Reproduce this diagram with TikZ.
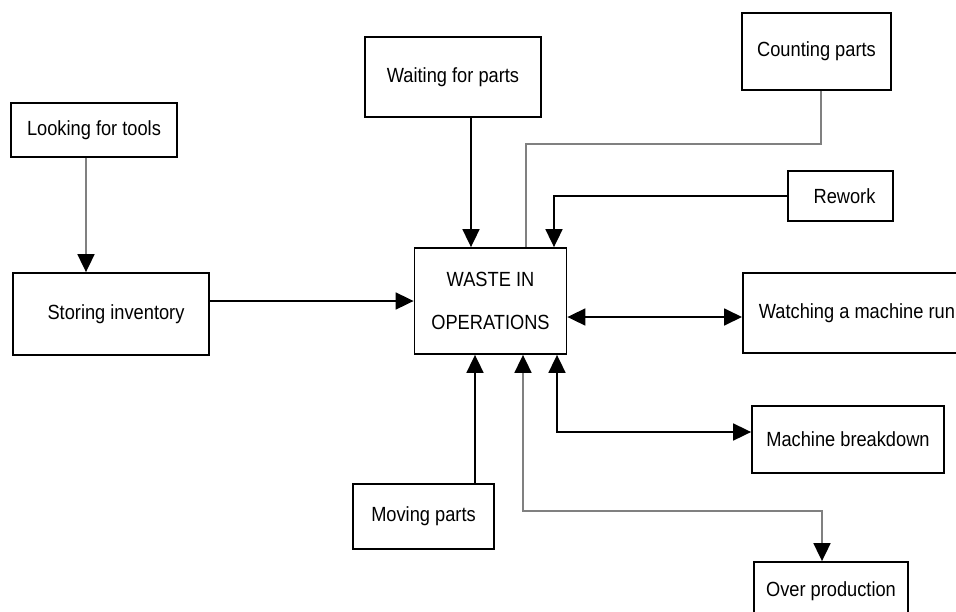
\documentclass[tikz,border=0pt]{standalone}
\usepackage{fontspec}
\setmainfont{Liberation Sans}[FakeStretch=0.89]
\usetikzlibrary{arrows.meta,calc}
\begin{document}
\begin{tikzpicture}[x=1pt,y=-1pt,
  box/.style={draw=black,line width=1.8pt,rectangle,inner sep=0pt,align=center,
    font=\fontsize{20.5}{43}\selectfont},
  conn/.style={line width=1.8pt,draw=black},
  gconn/.style={line width=1.8pt,draw=black!50},
  tip/.style={-{Triangle[length=18pt,width=17pt,color=black]}},
  dtip/.style={{Triangle[length=18pt,width=17pt,color=black]}-{Triangle[length=18pt,width=17pt,color=black]}}]
\useasboundingbox (0,0) rectangle (956,611);
\clip (0,0) rectangle (956,611);
\node[box,minimum width=166,minimum height=54] (look) at (94,130) {Looking for tools};
\node[box,minimum width=196,minimum height=82] (store) at (111,314) {\hspace*{10pt}Storing inventory};
\node[box,minimum width=176,minimum height=80] (wait) at (453,77) {Waiting for parts};
\node[box,minimum width=152,minimum height=106] (waste) at (490.5,301) {WASTE IN\\OPERATIONS};
\node[box,minimum width=149,minimum height=77] (count) at (816.5,51.5) {Counting parts};
\node[box,minimum width=105,minimum height=50] (rework) at (840.5,196) {\hspace*{8pt}Rework};
\node[box,minimum height=80,anchor=west,inner xsep=16pt,align=left] (watch) at (742,313) {Watching a machine run\hspace*{40pt}};
\node[box,minimum width=192,minimum height=67] (brk) at (848,439.5) {Machine breakdown};
\node[box,minimum width=154,minimum height=58] (over) at (831,591) {Over production};
\node[box,minimum width=141,minimum height=65] (move) at (423.5,516.5) {Moving parts};
\draw[gconn,tip] ([xshift=-8pt]look.south) -- ([xshift=-8pt]look.south |- store.north);
\draw[conn,tip] (store.east |- waste.west) -- (waste.west);
\draw[conn,tip] ([xshift=18pt]wait.south) -- ([xshift=18pt]wait.south |- waste.north);
\draw[gconn] ([xshift=4.5pt]count.south) |- ++(0,53) -| ([xshift=35.5pt]waste.north);
\draw[conn,tip] (rework.west) -| ([xshift=63.5pt]waste.north);
\draw[conn,dtip] ([yshift=-16pt]waste.east) -- ([yshift=-16pt]waste.east -| watch.west);
\draw[conn,dtip] ([xshift=66.5pt]waste.south) |- ([yshift=7.5pt]brk.west);
\draw[gconn,dtip] ([xshift=32.5pt]waste.south) -- ++(0,156) -| ([xshift=-9pt]over.north);
\draw[conn,tip] ([xshift=-15.5pt]waste.south |- move.north) -- ([xshift=-15.5pt]waste.south);
\end{tikzpicture}
\end{document}
